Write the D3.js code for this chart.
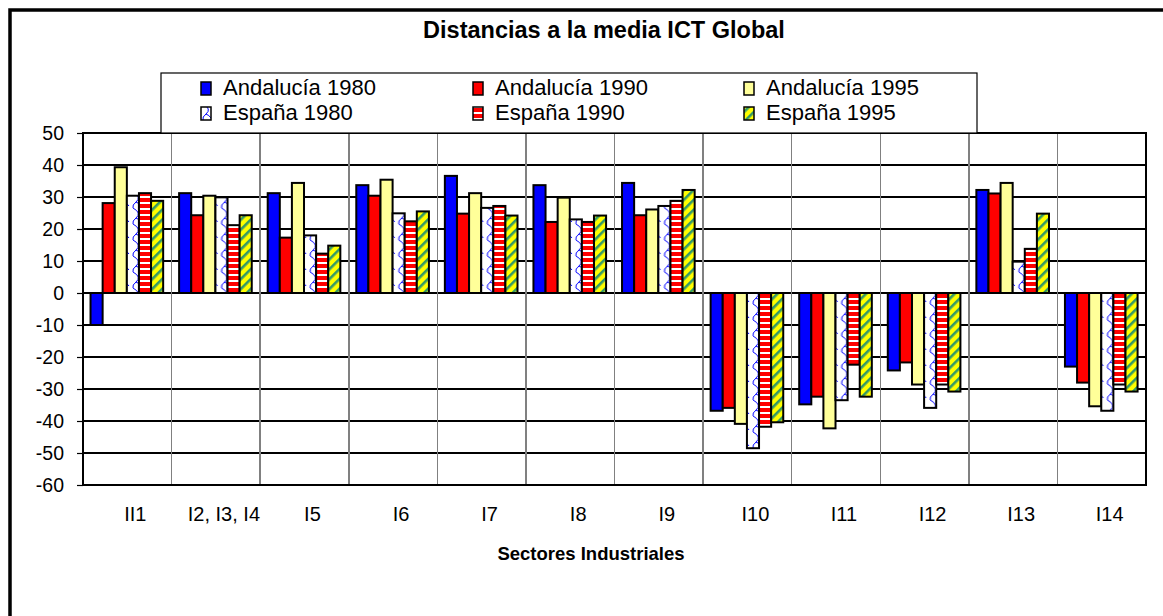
<script src="https://d3js.org/d3.v7.min.js"></script>

<svg id="chart" width="1163" height="616"></svg>

<style>
body { margin: 0; padding: 0; background: #ffffff; }
#chart { display: block; font-family: Arial, 'Liberation Sans', sans-serif; }
#chart text { font-family: Arial, 'Liberation Sans', sans-serif; }
.tick text { font-size: 19.5px; fill: #000; }
</style>

<script>
// categories and series
const categories = ["II1", "I2, I3, I4", "I5", "I6", "I7", "I8", "I9", "I10", "I11", "I12", "I13", "I14"];
const seriesNames = ["Andalucía 1980", "Andalucía 1990", "Andalucía 1995", "España 1980", "España 1990", "España 1995"];
const andalucia1980 = [-10, 31.2, 31.2, 33.7, 36.6, 33.7, 34.4, -36.8, -34.8, -24.2, 32.2, -23];
const andalucia1990 = [28.1, 24.3, 17.3, 30.4, 24.8, 22.2, 24.3, -35.9, -32.4, -21.7, 31.1, -28];
const andalucia1995 = [39.3, 30.4, 34.4, 35.4, 31.2, 29.8, 26.1, -40.9, -42.3, -28.6, 34.4, -35.4];
const espana1980 = [30.4, 29.9, 18, 24.9, 26.6, 23, 27.2, -48.5, -33.5, -35.9, 9.8, -36.8];
const espana1990 = [31.2, 21.2, 12.3, 22.4, 27.2, 22.2, 28.8, -41.8, -22.4, -28.6, 13.8, -28.6];
const espana1995 = [28.8, 24.3, 14.8, 25.5, 24.2, 24.2, 32.2, -40.4, -32.4, -30.8, 24.8, -30.8];
const yTicks = [50, 40, 30, 20, 10, 0, -10, -20, -30, -40, -50, -60];

const seriesValues = [andalucia1980, andalucia1990, andalucia1995, espana1980, espana1990, espana1995];
const fills = ["#0000ff", "#ff0000", "#ffff99", "url(#p-esp80)", "url(#p-esp90)", "url(#p-esp95)"];

const rows = categories.map((c, i) => ({
    cat: c,
    vals: seriesNames.map((s, j) => ({ key: s, idx: j, value: seriesValues[j][i] }))
}));

const svg = d3.select("#chart");
const defs = svg.append("defs");

// España 1980: white with blue waves
const p1 = defs.append("pattern").attr("id", "p-esp80")
    .attr("patternUnits", "userSpaceOnUse").attr("width", 12).attr("height", 16);
p1.append("rect").attr("width", 12).attr("height", 16).attr("fill", "#fff");
p1.append("path").attr("d", "M2,0 Q11,5 5,10 Q1,13 2,16")
    .attr("fill", "none").attr("stroke", "#0000ff").attr("stroke-width", 1);
p1.append("path").attr("d", "M5,10 Q8,11 10,14")
    .attr("fill", "none").attr("stroke", "#0000ff").attr("stroke-width", 1);

// España 1990: red / white horizontal stripes
const p2 = defs.append("pattern").attr("id", "p-esp90")
    .attr("patternUnits", "userSpaceOnUse").attr("width", 6).attr("height", 6);
p2.append("rect").attr("width", 6).attr("height", 6).attr("fill", "#ff0000");
p2.append("rect").attr("y", 4).attr("width", 6).attr("height", 2).attr("fill", "#fff");

// España 1995: yellow with green diagonal stripes
const p3 = defs.append("pattern").attr("id", "p-esp95")
    .attr("patternUnits", "userSpaceOnUse").attr("width", 7).attr("height", 7)
    .attr("patternTransform", "rotate(45)");
p3.append("rect").attr("width", 7).attr("height", 7).attr("fill", "#ffff00");
p3.append("rect").attr("width", 2.6).attr("height", 7).attr("fill", "#339966");

// outer frame (clipped on right and bottom)
svg.append("rect").attr("x", 10).attr("y", 10).attr("width", 1200).attr("height", 700)
    .attr("fill", "#fff").attr("stroke", "#000").attr("stroke-width", 3.5);

const plot = { left: 83, right: 1146, top: 133, bottom: 485 };

const x0 = d3.scaleBand().domain(categories).range([plot.left, plot.right]).padding(0);
const bw = x0.bandwidth();
const x1 = d3.scaleBand().domain(seriesNames).range([bw * 0.085, bw * 0.905]).padding(0);
const y = d3.scaleLinear().domain([-60, 50]).range([plot.bottom, plot.top]);

// title
svg.append("text").attr("x", 604).attr("y", 38).attr("text-anchor", "middle")
    .attr("font-weight", "bold").attr("font-size", 23.5).text("Distancias a la media ICT Global");

// horizontal gridlines
svg.append("g").selectAll("line").data(yTicks).join("line")
    .attr("x1", plot.left).attr("x2", plot.right)
    .attr("y1", d => y(d)).attr("y2", d => y(d))
    .attr("stroke", "#000").attr("stroke-width", 1.2).attr("shape-rendering", "crispEdges");

// vertical gridlines between categories
svg.append("g").selectAll("line").data(categories.slice(1)).join("line")
    .attr("x1", d => x0(d)).attr("x2", d => x0(d))
    .attr("y1", plot.top).attr("y2", plot.bottom)
    .attr("stroke", "#808080").attr("stroke-width", 1.5).attr("shape-rendering", "crispEdges");

// plot border
svg.append("rect").attr("x", plot.left).attr("y", plot.top)
    .attr("width", plot.right - plot.left).attr("height", plot.bottom - plot.top)
    .attr("fill", "none").attr("stroke", "#000").attr("stroke-width", 1.5)
    .attr("shape-rendering", "crispEdges");

// y axis
const yAxis = svg.append("g").attr("transform", `translate(${plot.left},0)`)
    .call(d3.axisLeft(y).tickValues(yTicks).tickSize(6).tickPadding(13).tickFormat(d => String(d)));
yAxis.select(".domain").remove();
yAxis.selectAll(".tick line").attr("stroke", "#000").attr("stroke-width", 1.2);

// bars
const groups = svg.append("g").selectAll("g").data(rows).join("g")
    .attr("transform", d => `translate(${x0(d.cat)},0)`);
groups.selectAll("rect").data(d => d.vals).join("rect")
    .attr("x", d => x1(d.key))
    .attr("y", d => y(Math.max(0, d.value)))
    .attr("width", x1.bandwidth())
    .attr("height", d => Math.abs(y(d.value) - y(0)))
    .attr("fill", d => fills[d.idx])
    .attr("stroke", "#000").attr("stroke-width", 2);

// category labels
svg.append("g").selectAll("text").data(categories).join("text")
    .attr("x", d => x0(d) + bw / 2 + 8).attr("y", 521)
    .attr("text-anchor", "middle").attr("font-size", 20).text(d => d);

// x axis title
svg.append("text").attr("x", 591).attr("y", 560).attr("text-anchor", "middle")
    .attr("font-weight", "bold").attr("font-size", 18.5).text("Sectores Industriales");

// legend: 3 columns, 2 rows (Andalucía on top, España below)
const legendBox = { x: 161, y: 73, w: 816, h: 60 };
svg.append("rect").attr("x", legendBox.x).attr("y", legendBox.y)
    .attr("width", legendBox.w).attr("height", legendBox.h)
    .attr("fill", "#fff").attr("stroke", "#000").attr("stroke-width", 1.2);

const colSwatch = [201, 473, 744];
const rowBase = [95, 120];
const leg = svg.append("g").selectAll("g").data(seriesNames).join("g")
    .attr("transform", (d, i) => `translate(${colSwatch[i % 3]},${rowBase[Math.floor(i / 3)]})`);
leg.append("rect").attr("x", 0).attr("y", -13).attr("width", 10).attr("height", 13)
    .attr("fill", (d, i) => fills[i]).attr("stroke", "#000").attr("stroke-width", 1.5);
leg.append("text").attr("x", 22).attr("y", 0).attr("font-size", 22).text(d => d);
</script>
